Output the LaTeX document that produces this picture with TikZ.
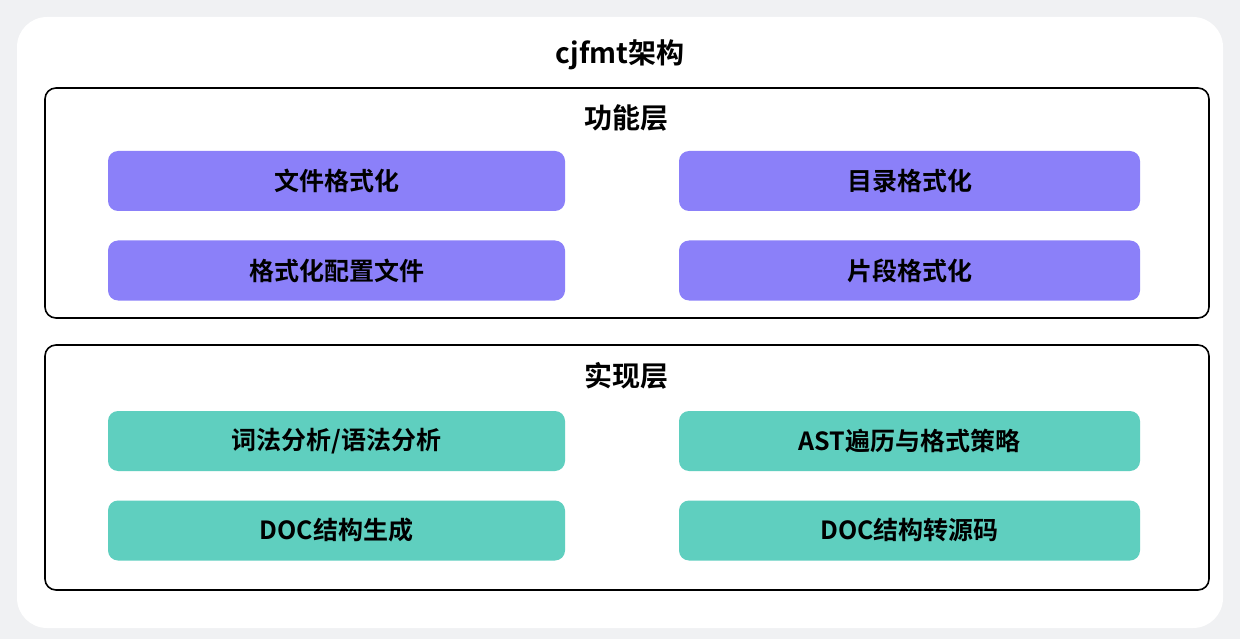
\documentclass[tikz,border=0pt]{standalone}
\usepackage{fontspec}
\newfontfamily\cjk{Noto Sans CJK SC}[BoldFont={Noto Sans CJK SC Bold}]
\usepackage{tikz}
\definecolor{bggray}{HTML}{F0F1F3}
\definecolor{funcpurple}{HTML}{8B80F9}
\definecolor{implgreen}{HTML}{5FCFBF}
\tikzset{
layer/.style={draw=black, line width=1.6pt, rounded corners=11pt, fill=white, minimum width=1164pt, inner sep=0pt},
title/.style={font=\cjk\bfseries\fontsize{28}{32}\selectfont, inner sep=0pt},
funcbox/.style={fill=funcpurple, rounded corners=10pt, minimum height=60pt, inner sep=0pt, font=\cjk\bfseries\fontsize{25}{30}\selectfont},
implbox/.style={funcbox, fill=implgreen}}

\begin{document}
\begin{tikzpicture}[x=1pt,y=-1pt]
    \useasboundingbox (0,0) rectangle (1240,639);
    \fill[bggray] (0,0) rectangle (1240,639);
    \fill[white, rounded corners=30pt] (17,17) rectangle (1223,628);

    \node[title] (T) at (620,55) {cjfmt架构};

    % function layer
    \node[layer, minimum height=230pt] (L1) at (627,203) {};
    \node[title] (L1T) at (626,118) {功能层};
    \node[funcbox, minimum width=457pt] (A) at (336.5,181) {文件格式化};
    \node[funcbox, minimum width=461pt] (B) at (909.5,181) {目录格式化};
    \node[funcbox, minimum width=457pt] (C) at (336.5,270.5) {格式化配置文件};
    \node[funcbox, minimum width=461pt] (D) at (909.5,270.5) {片段格式化};

    % implementation layer
    \node[layer, minimum height=245pt] (L2) at (627,467.5) {};
    \node[title] (L2T) at (626,376) {实现层};
    \node[implbox, minimum width=457pt] (E) at (336.5,441) {词法分析/语法分析};
    \node[implbox, minimum width=461pt] (F) at (909.5,441) {AST遍历与格式策略};
    \node[implbox, minimum width=457pt] (G) at (336.5,530.5) {DOC结构生成};
    \node[implbox, minimum width=461pt] (H) at (909.5,530.5) {DOC结构转源码};

\end{tikzpicture}
\end{document}
